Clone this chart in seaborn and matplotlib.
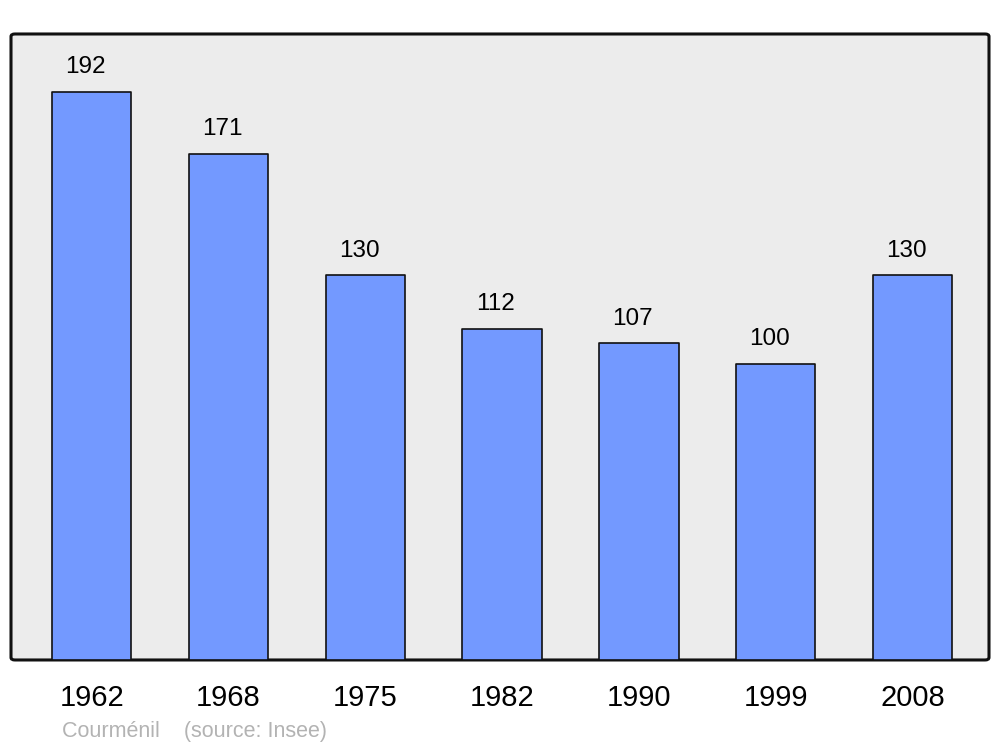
import matplotlib
matplotlib.use('Agg')
import matplotlib.pyplot as plt
import seaborn as sns
import pandas as pd
from matplotlib.patches import FancyBboxPatch

# data
years = ['1962', '1968', '1975', '1982', '1990', '1999', '2008']
population = [192, 171, 130, 112, 107, 100, 130]
town = 'Courménil'
source = '(source: Insee)'

df = pd.DataFrame({'year': years, 'pop': population})

sns.set_style('white')
plt.rcParams['font.family'] = ['Liberation Sans', 'DejaVu Sans']

fig = plt.figure(figsize=(10, 7.47), dpi=100)
ax = fig.add_axes([0.011, 0.1165, 0.978, 0.838])
ax.set_facecolor('none')

# rounded grey frame behind the bars
frame = FancyBboxPatch((0, 0), 1, 1, boxstyle='round,pad=0,rounding_size=0.004',
                       transform=ax.transAxes, facecolor='#ececec', edgecolor='#111111',
                       linewidth=2.2, clip_on=False, zorder=0)
ax.add_patch(frame)

sns.barplot(data=df, x='year', y='pop', color='#7399ff', saturation=1, width=0.58,
            edgecolor='#111111', linewidth=1.2, ax=ax, zorder=2)
for bar in ax.patches[1:]:
    bar.set_joinstyle('round')

for i, v in enumerate(population):
    ax.annotate(str(v), (i - 0.045, v), xytext=(0, 13.5), textcoords='offset points',
                ha='center', va='baseline', fontsize=17.5, color='black')

ax.set_xlim(-0.59, 6.56)
ax.set_ylim(0, 211.6)
ax.set_yticks([])
ax.set_xlabel('')
ax.set_ylabel('')
ax.tick_params(axis='x', length=0, pad=17, labelsize=21, labelcolor='black')
for s in ax.spines.values():
    s.set_visible(False)

fig.text(0.062, 0.014, town + '    ' + source, fontsize=15.5, color='#b3b3b3',
         ha='left', va='baseline')

fig.savefig('out.png', dpi=100)
